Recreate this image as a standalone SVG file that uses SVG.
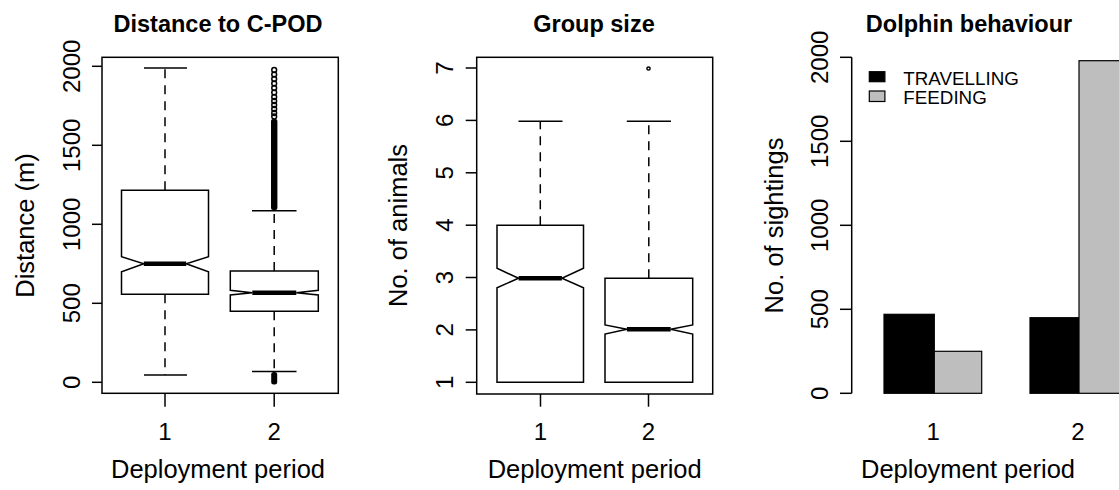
<svg xmlns="http://www.w3.org/2000/svg" width="1119" height="490" viewBox="0 0 1119 490">
  <style>
    text { font-family: "Liberation Sans", Arial, sans-serif; fill: #000; }
    .title { font-size: 23.5px; font-weight: bold; text-anchor: middle; }
    .lab { font-size: 25.5px; text-anchor: middle; }
    .tick { font-size: 24px; text-anchor: middle; }
    .leg { font-size: 18.8px; }
    .frame { fill: none; stroke: #000; stroke-width: 1.5; }
    .ax { stroke: #000; stroke-width: 1.5; fill: none; }
    .box { fill: #fff; stroke: #000; stroke-width: 1.5; stroke-linejoin: miter; }
    .med { stroke: #000; stroke-width: 4.5; }
    .whisk { stroke: #000; stroke-width: 1.5; stroke-dasharray: 9 7; }
    .cap { stroke: #000; stroke-width: 1.5; }
    .out { fill: none; stroke: #000; stroke-width: 1.5; }
    .bar { stroke: #000; stroke-width: 1.2; }
  </style>

  <!-- Panel 1: distance to C-POD -->
  <g id="panel-distance">
    <text class="title" x="218" y="32">Distance to C-POD</text>
    <rect class="frame" x="102" y="57.3" width="236.3" height="336"/>
    <g class="ax">
      <line x1="92" y1="382.3" x2="102" y2="382.3"/>
      <line x1="92" y1="303.3" x2="102" y2="303.3"/>
      <line x1="92" y1="224.3" x2="102" y2="224.3"/>
      <line x1="92" y1="145.3" x2="102" y2="145.3"/>
      <line x1="92" y1="66.3" x2="102" y2="66.3"/>
      <line x1="165" y1="393.3" x2="165" y2="406.7"/>
      <line x1="274.2" y1="393.3" x2="274.2" y2="406.7"/>
    </g>
    <text class="tick" transform="translate(80,382.3) rotate(-90)">0</text>
    <text class="tick" transform="translate(80,303.3) rotate(-90)">500</text>
    <text class="tick" transform="translate(80,224.3) rotate(-90)">1000</text>
    <text class="tick" transform="translate(80,145.3) rotate(-90)">1500</text>
    <text class="tick" transform="translate(80,66.3) rotate(-90)">2000</text>
    <text class="tick" x="165" y="440">1</text>
    <text class="tick" x="274.2" y="440">2</text>
    <text class="lab" x="218" y="478">Deployment period</text>
    <text class="lab" transform="translate(34,225.5) rotate(-90)">Distance (m)</text>

    <g id="dist-box1">
      <line class="whisk" x1="165" y1="190.3" x2="165" y2="68"/>
      <line class="whisk" x1="165" y1="294.3" x2="165" y2="375"/>
      <line class="cap" x1="144" y1="68" x2="187" y2="68"/>
      <line class="cap" x1="144" y1="375" x2="187" y2="375"/>
      <polygon class="box" points="121.5,294.3 121.5,271.7 143.8,263.7 121.5,256.7 121.5,190.3 208.5,190.3 208.5,256.7 186.2,263.7 208.5,271.7 208.5,294.3"/>
      <line class="med" x1="143.8" y1="263.7" x2="186.2" y2="263.7"/>
    </g>

    <g id="dist-box2">
      <line class="whisk" x1="274.2" y1="271" x2="274.2" y2="210.7"/>
      <line class="whisk" x1="274.2" y1="311.3" x2="274.2" y2="371.5"/>
      <line class="cap" x1="252" y1="210.7" x2="296.5" y2="210.7"/>
      <line class="cap" x1="252" y1="371.5" x2="296.5" y2="371.5"/>
      <polygon class="box" points="230.3,311.3 230.3,295 252.3,292.7 230.3,290.3 230.3,271 318.3,271 318.3,290.3 296.3,292.7 318.3,295 318.3,311.3"/>
      <line class="med" x1="252.3" y1="292.7" x2="296.3" y2="292.7"/>
      <!-- outliers above the upper whisker -->
      <rect x="271" y="119" width="6.4" height="91" rx="2" fill="#000"/>
      <g class="out">
        <circle cx="274.2" cy="70" r="2.4"/>
        <circle cx="274.2" cy="74.5" r="2.4"/>
        <circle cx="274.2" cy="79" r="2.4"/>
        <circle cx="274.2" cy="83.5" r="2.4"/>
        <circle cx="274.2" cy="88" r="2.4"/>
        <circle cx="274.2" cy="92.5" r="2.4"/>
        <circle cx="274.2" cy="97" r="2.4"/>
        <circle cx="274.2" cy="101" r="2.4"/>
        <circle cx="274.2" cy="105" r="2.4"/>
        <circle cx="274.2" cy="109" r="2.4"/>
        <circle cx="274.2" cy="113" r="2.4"/>
        <circle cx="274.2" cy="116.5" r="2.4"/>
      </g>
      <!-- outliers below the lower whisker -->
      <rect x="271.2" y="372" width="6" height="12.5" rx="2.5" fill="#000"/>
    </g>
  </g>

  <!-- Panel 2: group size -->
  <g id="panel-group">
    <text class="title" x="594" y="32">Group size</text>
    <rect class="frame" x="476.7" y="57.3" width="236" height="336.7"/>
    <g class="ax">
      <line x1="465.7" y1="382.3" x2="476.7" y2="382.3"/>
      <line x1="465.7" y1="329.9" x2="476.7" y2="329.9"/>
      <line x1="465.7" y1="277.5" x2="476.7" y2="277.5"/>
      <line x1="465.7" y1="225.2" x2="476.7" y2="225.2"/>
      <line x1="465.7" y1="172.8" x2="476.7" y2="172.8"/>
      <line x1="465.7" y1="120.4" x2="476.7" y2="120.4"/>
      <line x1="465.7" y1="68" x2="476.7" y2="68"/>
      <line x1="540.5" y1="394" x2="540.5" y2="406.7"/>
      <line x1="648.5" y1="394" x2="648.5" y2="406.7"/>
    </g>
    <text class="tick" transform="translate(453,382.3) rotate(-90)">1</text>
    <text class="tick" transform="translate(453,329.9) rotate(-90)">2</text>
    <text class="tick" transform="translate(453,277.5) rotate(-90)">3</text>
    <text class="tick" transform="translate(453,225.2) rotate(-90)">4</text>
    <text class="tick" transform="translate(453,172.8) rotate(-90)">5</text>
    <text class="tick" transform="translate(453,120.4) rotate(-90)">6</text>
    <text class="tick" transform="translate(453,68) rotate(-90)">7</text>
    <text class="tick" x="540.5" y="440">1</text>
    <text class="tick" x="648.5" y="440">2</text>
    <text class="lab" x="594.7" y="478">Deployment period</text>
    <text class="lab" transform="translate(407,225.5) rotate(-90)">No. of animals</text>

    <g id="group-box1">
      <line class="whisk" x1="540.3" y1="225.3" x2="540.3" y2="121.3"/>
      <line class="cap" x1="518.5" y1="121.3" x2="562.5" y2="121.3"/>
      <polygon class="box" points="497,382.3 497,287.7 518.6,278.3 497,268.3 497,225.3 583.5,225.3 583.5,268.3 561.9,278.3 583.5,287.7 583.5,382.3"/>
      <line class="med" x1="518.6" y1="278.3" x2="561.9" y2="278.3"/>
    </g>

    <g id="group-box2">
      <line class="whisk" x1="648.8" y1="278.3" x2="648.8" y2="121.3"/>
      <line class="cap" x1="626.8" y1="121.3" x2="671" y2="121.3"/>
      <polygon class="box" points="605,382.3 605,334 626.9,329.3 605,325 605,278.3 692.7,278.3 692.7,325 670.7,329.3 692.7,334 692.7,382.3"/>
      <line class="med" x1="626.9" y1="329.3" x2="670.7" y2="329.3"/>
      <circle class="out" cx="648.5" cy="68.5" r="1.6" stroke-width="1.2"/>
    </g>
  </g>

  <!-- Panel 3: dolphin behaviour -->
  <g id="panel-behaviour">
    <text class="title" x="969" y="32">Dolphin behaviour</text>
    <g class="ax">
      <line x1="851.7" y1="57.3" x2="851.7" y2="393.3"/>
      <line x1="840" y1="393.3" x2="851.7" y2="393.3"/>
      <line x1="840" y1="309.3" x2="851.7" y2="309.3"/>
      <line x1="840" y1="225.3" x2="851.7" y2="225.3"/>
      <line x1="840" y1="141.3" x2="851.7" y2="141.3"/>
      <line x1="840" y1="57.3" x2="851.7" y2="57.3"/>
    </g>
    <text class="tick" transform="translate(828,393.3) rotate(-90)">0</text>
    <text class="tick" transform="translate(828,309.3) rotate(-90)">500</text>
    <text class="tick" transform="translate(828,225.3) rotate(-90)">1000</text>
    <text class="tick" transform="translate(828,141.3) rotate(-90)">1500</text>
    <text class="tick" transform="translate(828,57.3) rotate(-90)">2000</text>
    <text class="tick" x="933.3" y="440">1</text>
    <text class="tick" x="1078" y="440">2</text>
    <text class="lab" x="968" y="478">Deployment period</text>
    <text class="lab" transform="translate(783,225.5) rotate(-90)">No. of sightings</text>

    <g id="bars-period1">
      <rect class="bar" x="884" y="314.3" width="50.3" height="79" fill="#000"/>
      <rect class="bar" x="934.3" y="351.3" width="47.4" height="42" fill="#bebebe"/>
    </g>
    <g id="bars-period2">
      <rect class="bar" x="1030" y="317.7" width="49" height="75.6" fill="#000"/>
      <rect class="bar" x="1079" y="60.7" width="49" height="332.6" fill="#bebebe"/>
    </g>

    <g id="legend">
      <rect class="bar" x="869.3" y="71.7" width="15.6" height="10" fill="#000"/>
      <rect class="bar" x="869.3" y="91" width="15.6" height="10.5" fill="#bebebe"/>
      <text class="leg" x="903.3" y="85">TRAVELLING</text>
      <text class="leg" x="903.3" y="104.3">FEEDING</text>
    </g>
  </g>
</svg>
